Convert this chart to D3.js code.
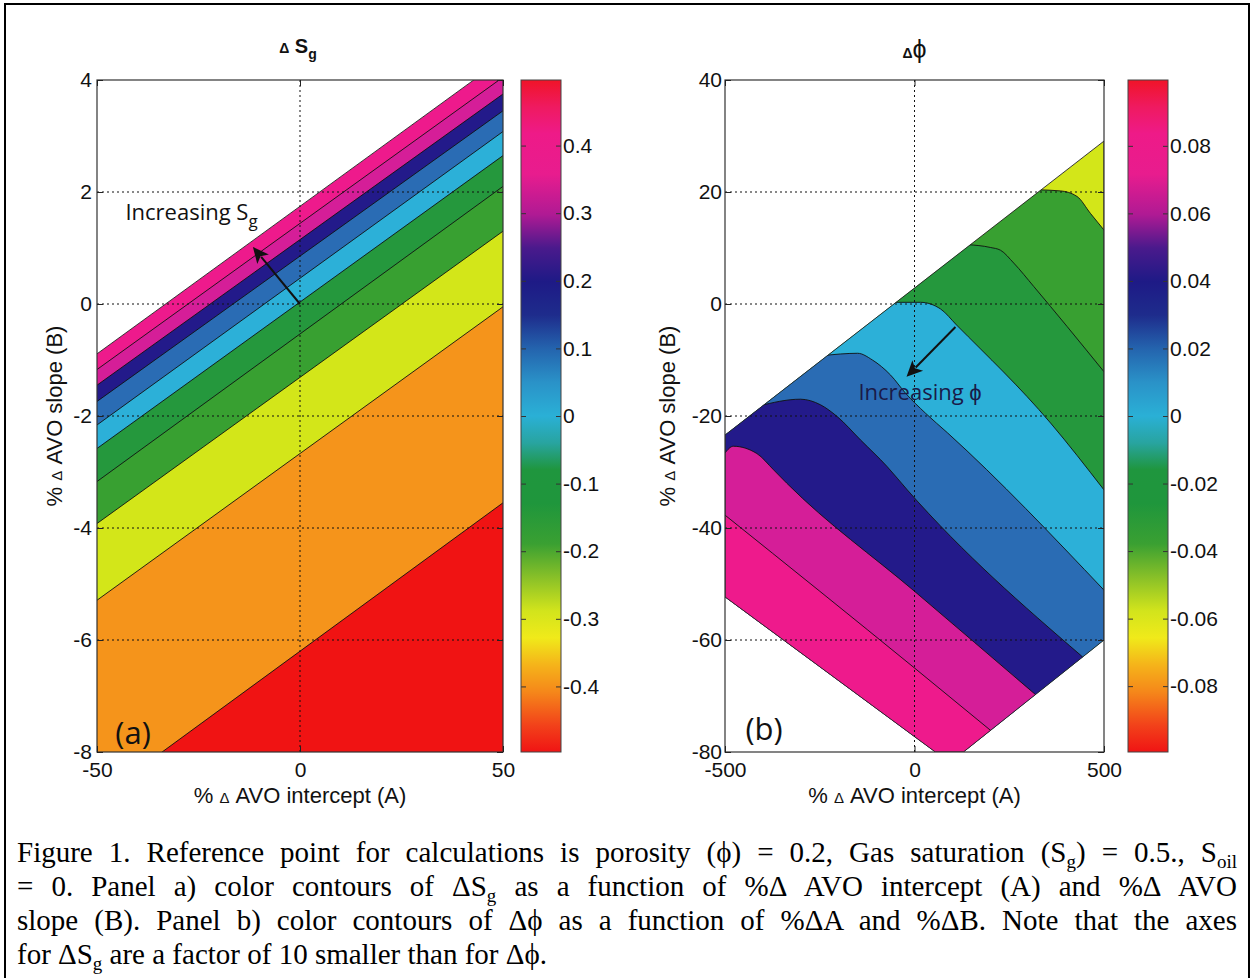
<!DOCTYPE html>
<html><head><meta charset="utf-8">
<script src="https://cdn.jsdelivr.net/npm/d3@7"></script>
<style>body{margin:0;background:#fff}</style>
</head><body>
<svg id="fig" width="1254" height="978" xmlns="http://www.w3.org/2000/svg"></svg>
<script>
// ================= DATA =================
// Panel (a): ΔSg, straight contour boundaries, B value at A=-50 and A=50 (top -> bottom)
const levelsSg        = [0.4, 0.3, 0.2, 0.1, 0, -0.1, -0.2, -0.3, -0.4];
const boundarySgLeft  = [-1.17, -1.45, -1.74, -2.16, -2.58, -3.17, -3.92, -5.29, -8.85];
const boundarySgRight = [4.05, 3.75, 3.45, 3.08, 2.65, 2.10, 1.30, -0.05, -3.55];
const validEdgeSg     = [[-50, -0.89], [50, 4.38]];           // limit of computed region
const xTicksA  = [-50, 0, 50];
const yTicksA  = [4, 2, 0, -2, -4, -6, -8];
const cbTicksA = [0.4, 0.3, 0.2, 0.1, 0, -0.1, -0.2, -0.3, -0.4];
const cbRangeA = [-0.497, 0.497];

// Panel (b): Δφ, curved contour boundaries (A, B) (top-right -> bottom-left)
const levelsPhi = [-0.04, -0.02, 0, 0.02, 0.04, 0.06, 0.08];
const boundaryPhi = [
  [[320, 20.4], [385, 20.2], [429, 19.2], [464, 16.2], [500, 13.2]],
  [[140, 10.6], [200, 10.1], [227, 9.6], [262, 7.3], [315, 3.1], [403, -4.05], [500, -12.1]],
  [[-70, 0.3], [16, 0.3], [69, -0.9], [111, -3.75], [359, -21.25], [500, -33.2]],
  [[-240, -9.2], [-150, -8.8], [-111, -10], [-63, -12.7], [-24, -15.9], [29, -19.5], [87, -23], [500, -51.1]],
  [[-410, -18.2], [-301, -17.0], [-248, -18.0], [-204, -20.1], [-142, -24.3], [-72, -29.05], [-19, -33.2], [438, -62.7]],
  [[-500, -26.6], [-478, -25.4], [-416, -26.7], [-372, -29.6], [-337, -32.0], [0, -51.3], [315, -69.5]],
  [[-500, -37.7], [0, -65.0], [200, -76.1]]
];
const validRegionPhi = [[-500, -23.4], [500, 29.1], [500, -60], [129, -80], [55, -80], [-500, -52.3]];
const xTicksB  = [-500, 0, 500];
const yTicksB  = [40, 20, 0, -20, -40, -60, -80];
const cbTicksB = [0.08, 0.06, 0.04, 0.02, 0, -0.02, -0.04, -0.06, -0.08];
const cbRangeB = [-0.0995, 0.0995];

// annotations (data coordinates)
const arrowSg  = [[0, 0], [-11.6, 1.02]];
const labelSg  = [-43, 1.63];
const arrowPhi = [[108, -4.1], [-21, -13.0]];
const labelPhi = [-148, -15.9];

const captionLines = [
  [['Figure 1. Reference point for calculations is porosity (ϕ) = 0.2, Gas saturation (S', 0], ['g', 1], [') = 0.5., S', 0], ['oil', 1]],
  [['= 0.  Panel a) color contours of ΔS', 0], ['g', 1], [' as a function of %Δ AVO intercept (A) and %Δ AVO', 0]],
  [['slope (B).  Panel b) color contours of Δϕ as a function of %ΔA and %ΔB. Note that the axes', 0]],
  [['for ΔS', 0], ['g', 1], [' are a factor of 10 smaller than for Δϕ.', 0]]
];

// ================= STYLE =================
const bandColorsA = ['#ee1a8c', '#d51e98', '#231a8a', '#2a6cb4', '#2cb0d8', '#25983d', '#38a031', '#d3e619', '#f5941b', '#f01313'];
const bandColorsB = ['#d3e619', '#38a031', '#25983d', '#2cb0d8', '#2a6cb4', '#231a8a', '#d51e98', '#ee1a8c'];
const cmapStops = [[0, '#f01414'], [0.04, '#f2421a'], [0.09, '#f5881a'], [0.13, '#f5b41a'], [0.17, '#f0ea1a'],
  [0.21, '#d2e41c'], [0.26, '#88c028'], [0.31, '#3aa032'], [0.37, '#1f963c'], [0.42, '#1f963e'],
  [0.46, '#28a4a0'], [0.5, '#2ab0d6'], [0.55, '#2a92c8'], [0.6, '#2464ae'], [0.65, '#1e2c8c'],
  [0.7, '#1e1a86'], [0.75, '#4a1a8c'], [0.8, '#b01a94'], [0.86, '#e81c8e'], [0.92, '#ee1a88'],
  [0.96, '#ef1a60'], [1, '#f01428']];
const SANS = "'Liberation Sans', Arial, Helvetica, sans-serif";
const HUMAN = "'Open Sans', 'Liberation Sans', sans-serif";

const svg = d3.select('#fig');
const defs = svg.append('defs');
svg.append('rect').attr('width', 1254).attr('height', 978).attr('fill', '#fff');
// outer frame
svg.append('rect').attr('x', 5).attr('y', 4).attr('width', 1244).attr('height', 1000)
  .attr('fill', 'none').attr('stroke', '#000').attr('stroke-width', 2);

// gradient for colorbars
const grad = defs.append('linearGradient').attr('id', 'cmap').attr('x1', 0).attr('x2', 0).attr('y1', 1).attr('y2', 0);
cmapStops.forEach(s => grad.append('stop').attr('offset', s[0]).attr('stop-color', s[1]));

// scales
const xA = d3.scaleLinear().domain([-50, 50]).range([97, 503]);
const yA = d3.scaleLinear().domain([-8, 4]).range([752, 80]);
const xB = d3.scaleLinear().domain([-500, 500]).range([725, 1104]);
const yB = d3.scaleLinear().domain([-80, 40]).range([752, 80]);
const cA = d3.scaleLinear().domain(cbRangeA).range([752, 80]);
const cB = d3.scaleLinear().domain(cbRangeB).range([752, 80]);

function clipRect(id, x, y) {
  defs.append('clipPath').attr('id', id).append('rect')
    .attr('x', x.range()[0]).attr('y', y.range()[1])
    .attr('width', x.range()[1] - x.range()[0]).attr('height', y.range()[0] - y.range()[1]);
}
function polyPath(pts, x, y) { return 'M' + pts.map(p => x(p[0]) + ',' + y(p[1])).join('L') + 'Z'; }

function drawAxes(g, x, y, xt, yt, ypad) {
  const [X0, X1] = x.range(), [Y1, Y0] = y.range();
  const grid = g.append('g').attr('stroke', '#111').attr('stroke-width', 1).attr('stroke-dasharray', '2,3');
  xt.filter(v => v > x.domain()[0] && v < x.domain()[1]).forEach(v =>
    grid.append('line').attr('x1', x(v)).attr('x2', x(v)).attr('y1', Y0).attr('y2', Y1));
  yt.filter(v => v > y.domain()[0] && v < y.domain()[1]).forEach(v =>
    grid.append('line').attr('y1', y(v)).attr('y2', y(v)).attr('x1', X0).attr('x2', X1));
  g.append('rect').attr('x', X0).attr('y', Y0).attr('width', X1 - X0).attr('height', Y1 - Y0)
    .attr('fill', 'none').attr('stroke', '#333').attr('stroke-width', 1.2);
  const fmt = d => String(d);
  const axes = [
    g.append('g').attr('transform', `translate(0,${Y1})`).call(d3.axisBottom(x).tickValues(xt).tickSizeInner(-6).tickSizeOuter(0).tickPadding(10).tickFormat(fmt)),
    g.append('g').attr('transform', `translate(0,${Y0})`).call(d3.axisTop(x).tickValues(xt).tickSizeInner(-6).tickSizeOuter(0).tickFormat('')),
    g.append('g').attr('transform', `translate(${X0},0)`).call(d3.axisLeft(y).tickValues(yt).tickSizeInner(-6).tickSizeOuter(0).tickPadding(ypad).tickFormat(fmt)),
    g.append('g').attr('transform', `translate(${X1},0)`).call(d3.axisRight(y).tickValues(yt).tickSizeInner(-6).tickSizeOuter(0).tickFormat(''))
  ];
  axes.forEach(a => {
    a.select('.domain').remove();
    a.attr('font-family', SANS).attr('font-size', 21);
    a.selectAll('line').attr('stroke', '#222');
    a.selectAll('text').attr('fill', '#111');
  });
}

function drawColorbar(x0, c, ticks) {
  const w = 40, [Y1, Y0] = c.range();
  const g = svg.append('g');
  g.append('rect').attr('x', x0).attr('y', Y0).attr('width', w).attr('height', Y1 - Y0).attr('fill', 'url(#cmap)');
  const r = g.append('g').attr('transform', `translate(${x0 + w},0)`)
    .call(d3.axisRight(c).tickValues(ticks).tickSizeInner(-5).tickSizeOuter(0).tickPadding(2).tickFormat(d => String(d)));
  const l = g.append('g').attr('transform', `translate(${x0},0)`)
    .call(d3.axisLeft(c).tickValues(ticks).tickSizeInner(-5).tickSizeOuter(0).tickFormat(''));
  [r, l].forEach(a => { a.select('.domain').remove(); a.attr('font-family', SANS).attr('font-size', 21);
    a.selectAll('line').attr('stroke', '#333'); a.selectAll('text').attr('fill', '#111'); });
  g.append('rect').attr('x', x0).attr('y', Y0).attr('width', w).attr('height', Y1 - Y0)
    .attr('fill', 'none').attr('stroke', '#444').attr('stroke-width', 1);
}

function arrow(g, pts, x, y) {
  const x1 = x(pts[0][0]), y1 = y(pts[0][1]), x2 = x(pts[1][0]), y2 = y(pts[1][1]);
  const dx = x2 - x1, dy = y2 - y1, L = Math.hypot(dx, dy), ux = dx / L, uy = dy / L;
  const hl = 16, hw = 7.5;
  const bx = x2 - ux * hl, by = y2 - uy * hl;
  g.append('line').attr('x1', x1).attr('y1', y1).attr('x2', bx + ux * 3).attr('y2', by + uy * 3)
    .attr('stroke', '#111').attr('stroke-width', 2);
  g.append('path').attr('d', `M${x2},${y2}L${bx - uy * hw},${by + ux * hw}L${bx + ux * 4},${by + uy * 4}L${bx + uy * hw},${by - ux * hw}Z`)
    .attr('fill', '#111');
}

function labelText(g, x, y, parts, size, attrs) {
  const t = g.append('text').attr('x', x).attr('y', y).attr('font-family', SANS).attr('font-size', size).attr('fill', '#111');
  Object.entries(attrs || {}).forEach(([k, v]) => t.attr(k, v));
  parts.forEach(p => { const s = t.append('tspan').text(p[0]); if (p[1]) Object.entries(p[1]).forEach(([k, v]) => s.attr(k, v)); });
  return t;
}

// ================= PANEL A =================
{
  const g = svg.append('g');
  clipRect('clipA', xA, yA);
  const region = [validEdgeSg[0], validEdgeSg[1], [50, -8], [-50, -8]];
  defs.append('clipPath').attr('id', 'regA').append('path').attr('d', polyPath(region, xA, yA));
  const gc = g.append('g').attr('clip-path', 'url(#clipA)').append('g').attr('clip-path', 'url(#regA)');
  gc.append('path').attr('d', polyPath(region, xA, yA)).attr('fill', bandColorsA[0]);
  levelsSg.forEach((lv, i) => {
    gc.append('path').attr('d', polyPath([[-50, boundarySgLeft[i]], [50, boundarySgRight[i]], [50, -30], [-50, -30]], xA, yA))
      .attr('fill', bandColorsA[i + 1]);
  });
  const gl = g.append('g').attr('clip-path', 'url(#clipA)');
  levelsSg.forEach((lv, i) => {
    gl.append('line').attr('x1', xA(-50)).attr('y1', yA(boundarySgLeft[i])).attr('x2', xA(50)).attr('y2', yA(boundarySgRight[i]))
      .attr('stroke', '#111').attr('stroke-width', 0.9).attr('clip-path', 'url(#regA)');
  });
  gl.append('line').attr('x1', xA(validEdgeSg[0][0])).attr('y1', yA(validEdgeSg[0][1]))
    .attr('x2', xA(validEdgeSg[1][0])).attr('y2', yA(validEdgeSg[1][1])).attr('stroke', '#222').attr('stroke-width', 0.9);
  drawAxes(g, xA, yA, xTicksA, yTicksA, 5);
  drawColorbar(521, cA, cbTicksA);
  arrow(g, arrowSg, xA, yA);
  labelText(g, xA(labelSg[0]), yA(labelSg[1]) + 7, [['Increasing S'], ['g', { 'font-size': 17, dy: 7 }]], 22, { 'font-family': HUMAN });
  labelText(g, xA(-45.5), yA(-7.85), [['(a)']], 31, { 'font-family': HUMAN });
  // title
  labelText(g, 298, 53, [['Δ', { 'font-size': 14 }], [' S'], ['g', { 'font-size': 14, dy: 6 }]], 20,
    { 'text-anchor': 'middle', 'font-weight': 'bold' });
  labelText(g, xA(0), 803, [['% '], ['Δ', { 'font-size': 15 }], [' AVO intercept (A)']], 22, { 'text-anchor': 'middle' });
  labelText(g, 0, 0, [['% '], ['Δ', { 'font-size': 15 }], [' AVO slope (B)']], 22,
    { 'text-anchor': 'middle', transform: `translate(62,${(yA.range()[0] + yA.range()[1]) / 2}) rotate(-90)` });
}

// ================= PANEL B =================
{
  const g = svg.append('g');
  clipRect('clipB', xB, yB);
  defs.append('clipPath').attr('id', 'regB').append('path').attr('d', polyPath(validRegionPhi, xB, yB));
  const gc = g.append('g').attr('clip-path', 'url(#clipB)').append('g').attr('clip-path', 'url(#regB)');
  gc.append('path').attr('d', polyPath(validRegionPhi, xB, yB)).attr('fill', bandColorsB[0]);
  const line = d3.line().x(d => xB(d[0])).y(d => yB(d[1])).curve(d3.curveMonotoneX);
  const openPaths = boundaryPhi.map(pts => {
    const n = pts.length, a = pts[n - 2], b = pts[n - 1];
    const s = (b[1] - a[1]) / (b[0] - a[0]);
    const endExt = [b[0] + 500, b[1] + s * 500];
    return {
      d: `M${xB(-1500)},${yB(pts[0][1])}L` + line(pts).slice(1) + `L${xB(endExt[0])},${yB(endExt[1])}`,
      end: endExt
    };
  });
  openPaths.forEach((p, i) => {
    gc.append('path').attr('d', p.d + `L${xB(2000)},${yB(-1000)}L${xB(-1500)},${yB(-1000)}Z`).attr('fill', bandColorsB[i + 1]);
  });
  openPaths.forEach(p => gc.append('path').attr('d', p.d).attr('fill', 'none').attr('stroke', '#111').attr('stroke-width', 0.9));
  g.append('g').attr('clip-path', 'url(#clipB)').append('path').attr('d', polyPath(validRegionPhi, xB, yB))
    .attr('fill', 'none').attr('stroke', '#222').attr('stroke-width', 0.9);
  drawAxes(g, xB, yB, xTicksB, yTicksB, 3);
  drawColorbar(1128, cB, cbTicksB);
  arrow(g, arrowPhi, xB, yB);
  labelText(g, xB(labelPhi[0]), yB(labelPhi[1]) + 7, [['Increasing ϕ']], 22, { 'font-family': HUMAN, fill: '#1a1a48' });
  labelText(g, xB(-446), yB(-77.9), [['(b)']], 31, { 'font-family': HUMAN });
  labelText(g, xB(0), 58, [['Δ', { 'font-size': 14, 'font-weight': 'bold' }], ['ϕ', { 'font-size': 25 }]], 20,
    { 'text-anchor': 'middle' });
  labelText(g, xB(0), 803, [['% '], ['Δ', { 'font-size': 15 }], [' AVO intercept (A)']], 22, { 'text-anchor': 'middle' });
  labelText(g, 0, 0, [['% '], ['Δ', { 'font-size': 15 }], [' AVO slope (B)']], 22,
    { 'text-anchor': 'middle', transform: `translate(675,${(yB.range()[0] + yB.range()[1]) / 2}) rotate(-90)` });
}

// ================= CAPTION =================
{
  const baselines = [862, 896, 930, 964];
  const left = 17, right = 1237;
  captionLines.forEach((parts, li) => {
    const t = svg.append('text').attr('x', left).attr('y', baselines[li])
      .attr('font-family', "'Liberation Serif', 'Times New Roman', serif").attr('font-size', 29).attr('fill', '#000');
    parts.forEach(([s, sub]) => {
      const sp = t.append('tspan').text(s);
      if (sub) sp.attr('font-size', 19).attr('dy', 6);
      else if (t.selectAll('tspan').size() > 1) sp.attr('dy', -6);
    });
    if (li < 3) {
      const len = t.node().getComputedTextLength();
      const n = t.text().trim().split(/\s+/).length - 1;
      if (len <= right - left) t.style('word-spacing', ((right - left - len) / n) + 'px');
      else t.attr('textLength', right - left).attr('lengthAdjust', 'spacingAndGlyphs');
    }
  });
}
</script>
</body></html>
